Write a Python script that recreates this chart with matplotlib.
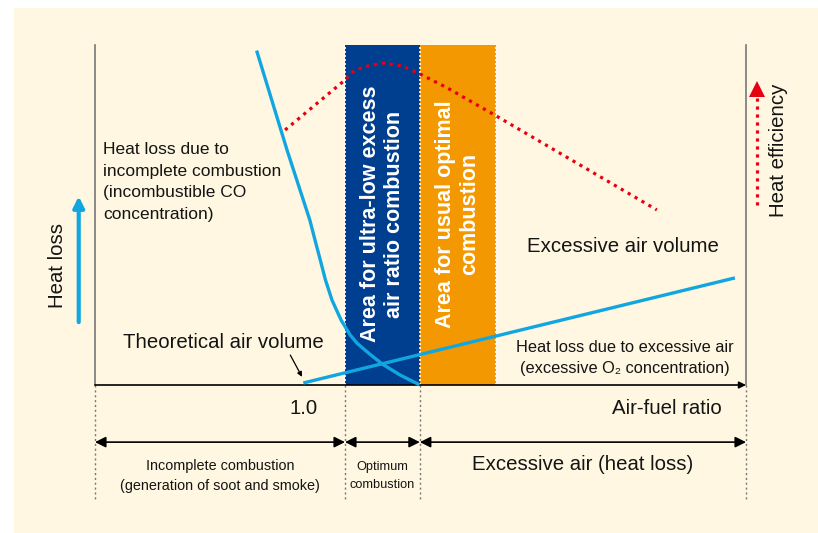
import numpy as np
import matplotlib
matplotlib.use("Agg")
from matplotlib import pyplot as plt
from matplotlib.patches import Rectangle

# ---- data (schematic units: x 0..100 along air-fuel ratio, y 0..100 heat loss) ----
incomplete_x = [24.9, 29.5, 33.0, 33.8, 34.6, 35.4, 36.4, 37.8, 39.2, 40.3,
                42.2, 44.1, 46.9, 49.6]
incomplete_y = [97.9, 69.1, 48.5, 42.6, 36.8, 30.9, 25.0, 19.1, 14.7, 12.2,
                9.1, 6.2, 2.9, 0.3]

excess_x = [32.0, 98.3]
excess_y = [0.6, 31.5]

efficiency_x = [29.2, 38.4, 39.6, 41.2, 44.2, 47.2, 49.9, 54.1, 61.4, 86.3]
efficiency_y = [75.0, 89.7, 92.1, 93.5, 94.7, 93.8, 91.5, 87.4, 79.4, 51.5]

band_edges = [38.4, 49.9, 61.6]          # ultra-low band, usual optimal band
zone_edges = [0, 38.4, 49.9, 100]        # bottom range arrows
zone_labels = ["Incomplete combustion\n(generation of soot and smoke)",
               "Optimum\ncombustion",
               "Excessive air (heat loss)"]
tick_pos = 32.0
tick_label = "1.0"

CREAM = "#fff7e1"
LBLUE = "#12a6e0"
DBLUE = "#003f90"
ORANGE = "#f39800"
RED = "#e60012"
INK = "#141414"

FONT = ["Liberation Sans", "DejaVu Sans"]
BIG = 14.7

fig = plt.figure(figsize=(8.18, 5.33), dpi=100)
fig.patch.set_facecolor("white")
fig.patches.append(Rectangle((14 / 818, 0), 1, (533 - 8) / 533,
                             transform=fig.transFigure, facecolor=CREAM,
                             edgecolor="none", zorder=-10))

ax = fig.add_axes([95 / 818, (533 - 385) / 533, 651 / 818, 340 / 533])
ax.set_xlim(0, 100)
ax.set_ylim(0, 100)
ax.set_facecolor("none")
ax.axis("off")

# bands
ax.axvspan(band_edges[0], band_edges[1], ymin=0, ymax=1, color=DBLUE, lw=0, zorder=1)
ax.axvspan(band_edges[1], band_edges[2], ymin=0, ymax=1, color=ORANGE, lw=0, zorder=1)
for xe in band_edges:
    ax.plot([xe, xe], [0, 100], color="white", lw=1.2, ls=(0, (1.2, 1.2)), zorder=2)

ax.text((band_edges[0] + band_edges[1]) / 2, 50.3,
        "Area for ultra-low excess\nair ratio combustion", rotation=90,
        ha="center", va="center", color="white", fontsize=15.5, fontweight="bold",
        family=FONT, linespacing=1.2, zorder=3)
ax.text((band_edges[1] + band_edges[2]) / 2, 50.3,
        "Area for usual optimal\ncombustion", rotation=90,
        ha="center", va="center", color="white", fontsize=15.5, fontweight="bold",
        family=FONT, linespacing=1.2, zorder=3)

# frame lines
ax.plot([0, 0], [0, 100], color="#777777", lw=1.2, zorder=2, clip_on=False)
ax.plot([100, 100], [0, 100], color="#777777", lw=1.2, zorder=2, clip_on=False)
ax.annotate("", xy=(100, 0), xytext=(0, 0),
            arrowprops=dict(arrowstyle="-|>", color="black", lw=1.2,
                            mutation_scale=10, shrinkA=0, shrinkB=0), zorder=4)

# curves
ax.plot(incomplete_x, incomplete_y, color=LBLUE, lw=2.4, zorder=5,
        solid_joinstyle="round", clip_on=False)
ax.plot(excess_x, excess_y, color=LBLUE, lw=2.4, zorder=5, solid_capstyle="butt")
ax.plot(efficiency_x, efficiency_y, color=RED, lw=2.3, ls=(0, (1, 1.5)),
        dash_capstyle="butt", zorder=6)

# texts inside plot
ax.text(1.2, 59.7, "Heat loss due to\nincomplete combustion\n(incombustible CO\nconcentration)",
        ha="left", va="center", fontsize=12.5, family=FONT, linespacing=1.55, color=INK)
ax.text(66.4, 40.6, "Excessive air volume", ha="left", va="center",
        fontsize=BIG, family=FONT, color=INK)
ax.text(4.3, 12.4, "Theoretical air volume", ha="left", va="center",
        fontsize=BIG, family=FONT, color=INK)
ax.annotate("", xy=(31.8, 2.4), xytext=(30.0, 8.8),
            arrowprops=dict(arrowstyle="-|>", color="black", lw=0.9,
                            mutation_scale=7, shrinkA=0, shrinkB=0))
ax.text(81.4, 7.9, "Heat loss due to excessive air\n(excessive O₂ concentration)",
        ha="center", va="center", fontsize=11.8, family=FONT, linespacing=1.45,
        color=INK)

# axis labels
ax.text(tick_pos, -6.8, tick_label, ha="center", va="center", fontsize=BIG,
        family=FONT, color=INK, clip_on=False)
ax.text(87.9, -6.8, "Air-fuel ratio", ha="center", va="center", fontsize=BIG,
        family=FONT, color=INK, clip_on=False)

# heat loss arrow (left)
ax.annotate("", xy=(-2.5, 55.5), xytext=(-2.5, 18.5),
            arrowprops=dict(arrowstyle="-|>", color=LBLUE, lw=3,
                            mutation_scale=16, shrinkA=0, shrinkB=0),
            annotation_clip=False)
ax.text(-5.7, 35.1, "Heat loss", rotation=90, ha="center", va="center",
        fontsize=BIG, family=FONT, color=INK, clip_on=False)

# heat efficiency arrow (right)
ax.plot([101.7, 101.7], [52.9, 86.0], color=RED, lw=2.3, ls=(0, (1, 1.5)),
        dash_capstyle="butt", clip_on=False)
ax.plot([101.7], [87.0], marker="^", ms=11, color=RED, mew=0, clip_on=False)
ax.text(105.0, 69.1, "Heat efficiency", rotation=90, ha="center", va="center",
        fontsize=BIG, family=FONT, color=INK, clip_on=False)

# zone separators and arrows below axis
for xe in zone_edges:
    ax.plot([xe, xe], [0, -33.5], color="#777777", lw=1.0, ls=(0, (1.5, 2)),
            clip_on=False)
for i in range(len(zone_labels)):
    a, b = zone_edges[i], zone_edges[i + 1]
    ax.annotate("", xy=(b, -16.8), xytext=(a, -16.8),
                arrowprops=dict(arrowstyle="<|-|>", color="black", lw=1.2,
                                mutation_scale=16, shrinkA=0, shrinkB=0),
                annotation_clip=False)
ax.text((zone_edges[0] + zone_edges[1]) / 2, -26.8, zone_labels[0], ha="center",
        va="center", fontsize=10.4, family=FONT, linespacing=1.6, color=INK,
        clip_on=False)
ax.text((zone_edges[1] + zone_edges[2]) / 2, -26.8, zone_labels[1], ha="center",
        va="center", fontsize=9.2, family=FONT, linespacing=1.75, color=INK,
        clip_on=False)
ax.text((zone_edges[2] + zone_edges[3]) / 2, -23.5, zone_labels[2], ha="center",
        va="center", fontsize=BIG, family=FONT, color=INK, clip_on=False)

fig.savefig("out.png", dpi=100, facecolor=fig.get_facecolor())
